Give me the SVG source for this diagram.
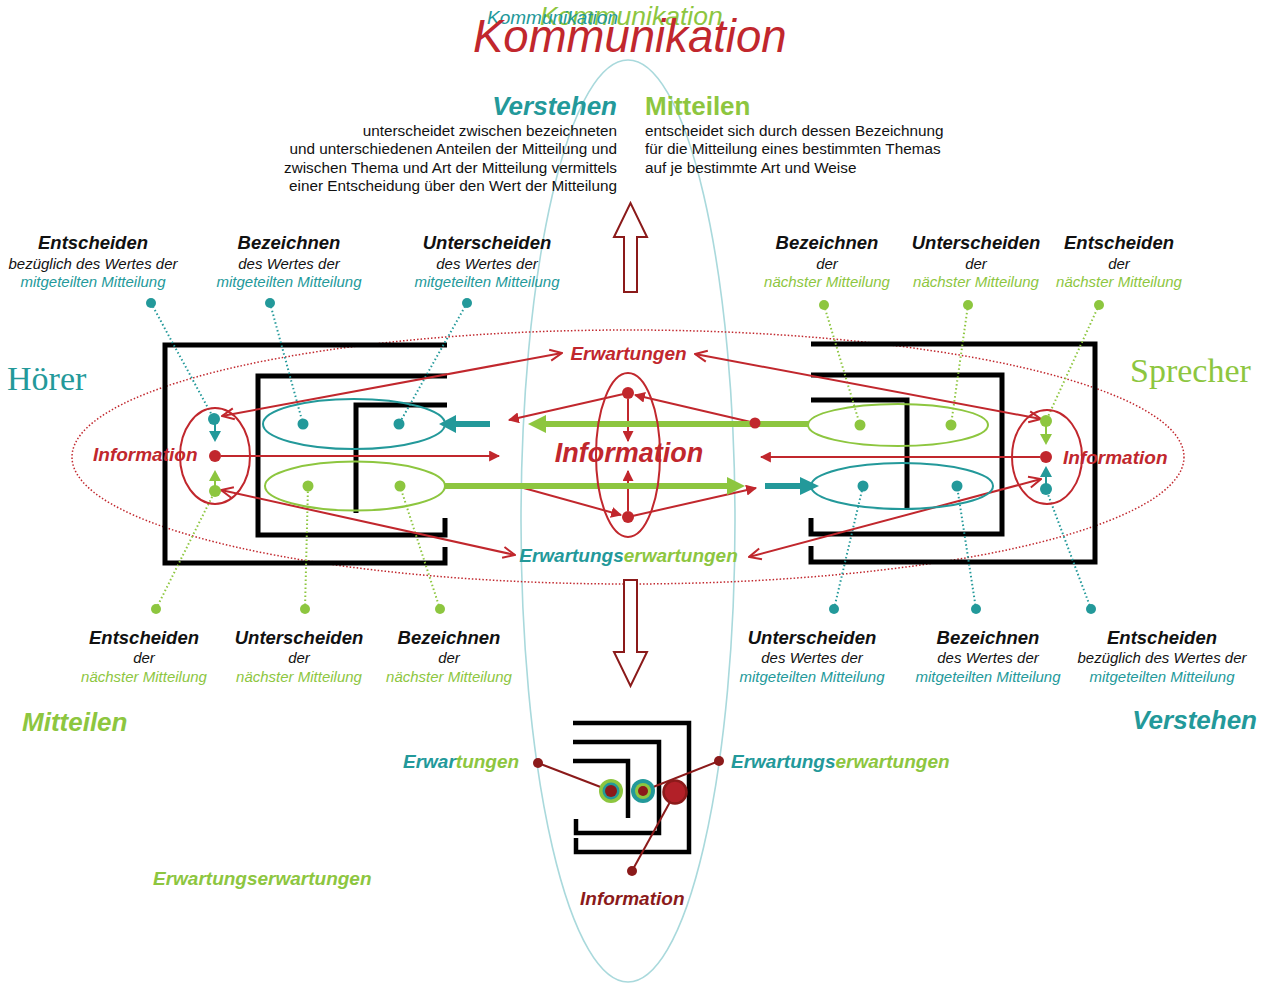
<svg xmlns="http://www.w3.org/2000/svg" width="1273" height="984" viewBox="0 0 1273 984">
<style>
text{font-family:"Liberation Sans",Arial,sans-serif}
.t{fill:#23999a}.g{fill:#8dc63f}.r{fill:#c1272d}.dr{fill:#8b1a1a}
.lbl{font-size:18.5px;font-weight:bold;font-style:italic;text-anchor:middle;fill:#111}
.sub{font-size:15px;font-style:italic;text-anchor:middle;fill:#111}
.subt{font-size:15px;font-style:italic;text-anchor:middle;fill:#23999a}
.subg{font-size:15px;font-style:italic;text-anchor:middle;fill:#8dc63f}
.para{font-size:15.3px;fill:#111}
.br{fill:none;stroke:#000;stroke-width:5;stroke-linejoin:miter}
.brs{fill:none;stroke:#000;stroke-width:4.5;stroke-linejoin:miter}
.dt{stroke:#23999a;stroke-width:2;stroke-dasharray:1.5 2.5;fill:none}
.dg{stroke:#8dc63f;stroke-width:2;stroke-dasharray:1.5 2.5;fill:none}
.rl{stroke:#c1272d;stroke-width:2;fill:none}
.bi{font-weight:bold;font-style:italic;font-size:19px}
.ell{fill:none;stroke-width:2}
</style>
<defs>
<marker id="oa" viewBox="0 0 14 14" refX="13" refY="7" markerWidth="14" markerHeight="14" markerUnits="userSpaceOnUse" orient="auto-start-reverse"><path d="M1,1.5 L13,7 L1,12.5" fill="none" stroke="#c1272d" stroke-width="2"/></marker>
<marker id="fa" viewBox="0 0 10 10" refX="9" refY="5" markerWidth="11" markerHeight="11" markerUnits="userSpaceOnUse" orient="auto"><path d="M0,0 L10,5 L0,10 z" fill="#c1272d"/></marker>
</defs>
<rect width="1273" height="984" fill="#fff"/>

<!-- background ellipses -->
<g id="frames">
<ellipse cx="628" cy="521" rx="107" ry="461" fill="none" stroke="#a9d9dc" stroke-width="1.6"/>
<ellipse cx="628" cy="457" rx="556" ry="127" fill="none" stroke="#c1272d" stroke-width="1.5" stroke-dasharray="1.5 2"/>
</g>

<!-- titles -->
<g id="title">
<text x="540" y="25" font-size="26.5" font-style="italic" class="g">Kommunikation</text>
<text x="487" y="24" font-size="19" font-style="italic" class="t">Kommunikation</text>
<text x="473" y="52" font-size="45.5" font-style="italic" class="r">Kommunikation</text>
</g>

<g id="verstehen-top">
<text x="617" y="115" font-size="26" font-weight="bold" font-style="italic" text-anchor="end" class="t">Verstehen</text>
<text class="para" text-anchor="end" x="617" y="135.5">unterscheidet zwischen bezeichneten</text>
<text class="para" text-anchor="end" x="617" y="154">und unterschiedenen Anteilen der Mitteilung und</text>
<text class="para" text-anchor="end" x="617" y="172.5">zwischen Thema und Art der Mitteilung vermittels</text>
<text class="para" text-anchor="end" x="617" y="191">einer Entscheidung über den Wert der Mitteilung</text>
</g>
<g id="mitteilen-top">
<text x="645" y="115" font-size="26" font-weight="bold" class="g">Mitteilen</text>
<text class="para" x="645" y="135.5">entscheidet sich durch dessen Bezeichnung</text>
<text class="para" x="645" y="154">für die Mitteilung eines bestimmten Themas</text>
<text class="para" x="645" y="172.5">auf je bestimmte Art und Weise</text>
</g>

<g id="arrow-up"><path d="M624,292 V237 H614 L630.5,203 L647,237 H637 V292 Z" fill="#fff" stroke="#8b1a1a" stroke-width="2"/></g>
<g id="arrow-down"><path d="M624,580 V652 H614 L630.5,686 L647,652 H637 V580 Z" fill="#fff" stroke="#8b1a1a" stroke-width="2"/></g>

<!-- upper labels -->
<g id="lab-ul1"><text class="lbl" x="93" y="249">Entscheiden</text><text class="sub" x="93" y="268.5">bezüglich des Wertes der</text><text class="subt" x="93" y="287">mitgeteilten Mitteilung</text></g>
<g id="lab-ul2"><text class="lbl" x="289" y="249">Bezeichnen</text><text class="sub" x="289" y="268.5">des Wertes der</text><text class="subt" x="289" y="287">mitgeteilten Mitteilung</text></g>
<g id="lab-ul3"><text class="lbl" x="487" y="249">Unterscheiden</text><text class="sub" x="487" y="268.5">des Wertes der</text><text class="subt" x="487" y="287">mitgeteilten Mitteilung</text></g>
<g id="lab-ur1"><text class="lbl" x="827" y="249">Bezeichnen</text><text class="sub" x="827" y="268.5">der</text><text class="subg" x="827" y="287">nächster Mitteilung</text></g>
<g id="lab-ur2"><text class="lbl" x="976" y="249">Unterscheiden</text><text class="sub" x="976" y="268.5">der</text><text class="subg" x="976" y="287">nächster Mitteilung</text></g>
<g id="lab-ur3"><text class="lbl" x="1119" y="249">Entscheiden</text><text class="sub" x="1119" y="268.5">der</text><text class="subg" x="1119" y="287">nächster Mitteilung</text></g>
<!-- lower labels -->
<g id="lab-ll1"><text class="lbl" x="144" y="644">Entscheiden</text><text class="sub" x="144" y="663">der</text><text class="subg" x="144" y="681.5">nächster Mitteilung</text></g>
<g id="lab-ll2"><text class="lbl" x="299" y="644">Unterscheiden</text><text class="sub" x="299" y="663">der</text><text class="subg" x="299" y="681.5">nächster Mitteilung</text></g>
<g id="lab-ll3"><text class="lbl" x="449" y="644">Bezeichnen</text><text class="sub" x="449" y="663">der</text><text class="subg" x="449" y="681.5">nächster Mitteilung</text></g>
<g id="lab-lr1"><text class="lbl" x="812" y="644">Unterscheiden</text><text class="sub" x="812" y="663">des Wertes der</text><text class="subt" x="812" y="681.5">mitgeteilten Mitteilung</text></g>
<g id="lab-lr2"><text class="lbl" x="988" y="644">Bezeichnen</text><text class="sub" x="988" y="663">des Wertes der</text><text class="subt" x="988" y="681.5">mitgeteilten Mitteilung</text></g>
<g id="lab-lr3"><text class="lbl" x="1162" y="644">Entscheiden</text><text class="sub" x="1162" y="663">bezüglich des Wertes der</text><text class="subt" x="1162" y="681.5">mitgeteilten Mitteilung</text></g>

<g id="hoerer"><text x="7" y="390" font-family="Liberation Serif,serif" font-size="34" class="t" style="font-family:'Liberation Serif',serif">Hörer</text></g>
<g id="sprecher"><text x="1130" y="382" font-size="34" class="g" style="font-family:'Liberation Serif',serif">Sprecher</text></g>
<g id="mitteilen-bl"><text x="22" y="731" font-size="26" font-weight="bold" font-style="italic" class="g">Mitteilen</text></g>
<g id="verstehen-br"><text x="1257" y="729" font-size="26" font-weight="bold" font-style="italic" text-anchor="end" class="t">Verstehen</text></g>

<!-- brackets -->
<g id="hoerer-brackets">
<path class="br" d="M447,345 H165 V563 H445 V547"/>
<path class="br" d="M447,376 H258 V535 H445 V518"/>
<path class="br" d="M447,405 H356 V513"/>
</g>
<g id="sprecher-brackets">
<path class="br" d="M811,344 H1095 V562 H811 V546"/>
<path class="br" d="M811,375 H1002 V534 H811 V518"/>
<path class="br" d="M811,400 H907 V508"/>
</g>

<!-- connectors -->
<g id="connectors">
<!-- dotted leaders -->
<line class="dt" x1="151" y1="303" x2="214" y2="419"/>
<line class="dt" x1="270" y1="303" x2="303" y2="424"/>
<line class="dt" x1="467" y1="303" x2="399" y2="424"/>
<line class="dg" x1="156" y1="609" x2="215" y2="491"/>
<line class="dg" x1="305" y1="609" x2="308" y2="486"/>
<line class="dg" x1="440" y1="609" x2="400" y2="486"/>
<line class="dg" x1="824" y1="305" x2="860" y2="425"/>
<line class="dg" x1="968" y1="305" x2="951" y2="425"/>
<line class="dg" x1="1099" y1="305" x2="1046" y2="421"/>
<line class="dt" x1="834" y1="609" x2="863" y2="486"/>
<line class="dt" x1="976" y1="609" x2="957" y2="486"/>
<line class="dt" x1="1091" y1="609" x2="1046" y2="489"/>

<!-- red central lines -->
<line class="rl" x1="520" y1="487" x2="621" y2="515" marker-end="url(#fa)"/>
<line class="rl" x1="628" y1="393" x2="509" y2="420" marker-end="url(#fa)"/>
<line class="rl" x1="755" y1="423" x2="635" y2="395" marker-end="url(#fa)"/>
<line class="rl" x1="628" y1="517" x2="756" y2="488" marker-end="url(#fa)"/>
<line class="rl" x1="628" y1="399" x2="628" y2="441" marker-end="url(#fa)"/>
<line class="rl" x1="628" y1="511" x2="628" y2="471" marker-end="url(#fa)"/>

<!-- thick arrows -->
<line x1="490" y1="424" x2="453" y2="424" stroke="#23999a" stroke-width="6"/>
<polygon points="439,424 456,415 456,433" fill="#23999a"/>
<line x1="808" y1="424" x2="543" y2="424" stroke="#8dc63f" stroke-width="6"/>
<polygon points="528,424 546,415 546,433" fill="#8dc63f"/>
<line x1="445" y1="486" x2="729" y2="486" stroke="#8dc63f" stroke-width="6"/>
<polygon points="745,486 727,477 727,495" fill="#8dc63f"/>
<line x1="765" y1="486" x2="802" y2="486" stroke="#23999a" stroke-width="6"/>
<polygon points="819,486 800,477 800,495" fill="#23999a"/>
<circle cx="755" cy="423" r="5.5" fill="#c1272d"/>

<!-- Erwartungen / Erwartungserwartungen -->
<line class="rl" x1="222" y1="416" x2="562" y2="353" marker-start="url(#oa)" marker-end="url(#oa)"/>
<line class="rl" x1="1041" y1="419" x2="695" y2="354" marker-start="url(#oa)" marker-end="url(#oa)"/>
<line class="rl" x1="221" y1="490" x2="515" y2="555" marker-start="url(#oa)" marker-end="url(#oa)"/>
<line class="rl" x1="1041" y1="479" x2="749" y2="557" marker-start="url(#oa)" marker-end="url(#oa)"/>

<!-- horizontal information arrows -->
<line class="rl" x1="221" y1="456" x2="499" y2="456" marker-end="url(#fa)"/>
<line class="rl" x1="1040" y1="457" x2="761" y2="457" marker-end="url(#fa)"/>

<!-- small vertical arrows -->
<line x1="215" y1="419" x2="215" y2="433" stroke="#23999a" stroke-width="2"/>
<polygon points="215,442 209,431 221,431" fill="#23999a"/>
<line x1="215" y1="491" x2="215" y2="479" stroke="#8dc63f" stroke-width="2"/>
<polygon points="215,470 209,481 221,481" fill="#8dc63f"/>
<line x1="1046" y1="421" x2="1046" y2="435" stroke="#8dc63f" stroke-width="2"/>
<polygon points="1046,445 1040,434 1052,434" fill="#8dc63f"/>
<line x1="1046" y1="489" x2="1046" y2="476" stroke="#23999a" stroke-width="2"/>
<polygon points="1046,466 1040,477 1052,477" fill="#23999a"/>
</g>

<!-- nodes -->
<g id="hoerer-verstehen">
<ellipse class="ell" cx="354" cy="424" rx="91" ry="25" stroke="#23999a"/>
<circle cx="303" cy="424" r="5.5" fill="#23999a"/><circle cx="399" cy="424" r="5.5" fill="#23999a"/>
</g>
<g id="hoerer-mitteilen">
<ellipse class="ell" cx="355" cy="486" rx="90" ry="24.5" stroke="#8dc63f"/>
<circle cx="308" cy="486" r="5.5" fill="#8dc63f"/><circle cx="400" cy="486" r="5.5" fill="#8dc63f"/>
</g>
<g id="sprecher-mitteilen">
<ellipse class="ell" cx="898" cy="425" rx="90" ry="21" stroke="#8dc63f"/>
<circle cx="860" cy="425" r="5.5" fill="#8dc63f"/><circle cx="951" cy="425" r="5.5" fill="#8dc63f"/>
</g>
<g id="sprecher-verstehen">
<ellipse class="ell" cx="902" cy="486" rx="91" ry="23" stroke="#23999a"/>
<circle cx="863" cy="486" r="5.5" fill="#23999a"/><circle cx="957" cy="486" r="5.5" fill="#23999a"/>
</g>
<g id="hoerer-information">
<ellipse class="ell" cx="215" cy="456" rx="35" ry="48" stroke="#c1272d" stroke-width="1.8"/>
<circle cx="214" cy="419" r="6" fill="#23999a"/>
<circle cx="215" cy="456" r="6" fill="#c1272d"/>
<circle cx="215" cy="491" r="6" fill="#8dc63f"/>
<text x="93" y="461" class="r bi">Information</text>
</g>
<g id="sprecher-information">
<ellipse class="ell" cx="1047" cy="457" rx="35" ry="47" stroke="#c1272d" stroke-width="1.8"/>
<circle cx="1046" cy="421" r="6" fill="#8dc63f"/>
<circle cx="1046" cy="457" r="6" fill="#c1272d"/>
<circle cx="1046" cy="489" r="6" fill="#23999a"/>
<text x="1063" y="464" class="r bi">Information</text>
</g>
<g id="central-information">
<ellipse class="ell" cx="628" cy="455" rx="32" ry="82" stroke="#c1272d" stroke-width="1.8"/>
<circle cx="628" cy="393" r="6" fill="#c1272d"/>
<circle cx="628" cy="517" r="6" fill="#c1272d"/>
<text x="629" y="462" font-size="27" font-weight="bold" font-style="italic" text-anchor="middle" class="r">Information</text>
</g>
<g id="erwartungen"><text x="628.5" y="360" text-anchor="middle" class="r bi">Erwartungen</text></g>
<g id="erwartungserwartungen"><text x="628.5" y="562" text-anchor="middle" class="bi"><tspan class="t">Erwartungs</tspan><tspan class="g">erwartungen</tspan></text></g>

<!-- label dots -->
<g id="label-dots">
<circle cx="151" cy="303" r="5" fill="#23999a"/><circle cx="270" cy="303" r="5" fill="#23999a"/><circle cx="467" cy="303" r="5" fill="#23999a"/>
<circle cx="824" cy="305" r="5" fill="#8dc63f"/><circle cx="968" cy="305" r="5" fill="#8dc63f"/><circle cx="1099" cy="305" r="5" fill="#8dc63f"/>
<circle cx="156" cy="609" r="5" fill="#8dc63f"/><circle cx="305" cy="609" r="5" fill="#8dc63f"/><circle cx="440" cy="609" r="5" fill="#8dc63f"/>
<circle cx="834" cy="609" r="5" fill="#23999a"/><circle cx="976" cy="609" r="5" fill="#23999a"/><circle cx="1091" cy="609" r="5" fill="#23999a"/>
</g>

<!-- bottom mini diagram -->
<g id="mini-diagram">
<path class="brs" d="M573,723 H689 V852 H576 V838"/>
<path class="brs" d="M573,742 H659 V833 H576 V819"/>
<path class="brs" d="M573,761 H628 V818"/>
<line x1="538" y1="763" x2="611" y2="791" stroke="#8b1a1a" stroke-width="2"/>
<line x1="719" y1="761" x2="643" y2="791" stroke="#8b1a1a" stroke-width="2"/>
<line x1="632" y1="871" x2="670" y2="802" stroke="#8b1a1a" stroke-width="2"/>
<circle cx="611" cy="791" r="12" fill="#8dc63f"/><circle cx="611" cy="791" r="8.5" fill="#23999a"/><circle cx="611" cy="791" r="6" fill="#8b1a1a"/>
<circle cx="643" cy="791" r="12" fill="#23999a"/><circle cx="643" cy="791" r="8" fill="#8dc63f"/><circle cx="643" cy="791" r="5" fill="#8b1a1a"/>
<circle cx="675" cy="792" r="11.5" fill="#b22028" stroke="#8b1a1a" stroke-width="2.5"/>
<circle cx="538" cy="763" r="5" fill="#8b1a1a"/>
<circle cx="719" cy="761" r="5" fill="#8b1a1a"/>
<circle cx="632" cy="871" r="5" fill="#8b1a1a"/>
</g>
<g id="mini-erwartungen"><text x="403" y="768" class="bi"><tspan class="t">Erwar</tspan><tspan class="g">tungen</tspan></text></g>
<g id="mini-ee"><text x="731" y="768" class="bi"><tspan class="t">Erwartungs</tspan><tspan class="g">erwartungen</tspan></text></g>
<g id="mini-information"><text x="580" y="905" class="dr bi">Information</text></g>
<g id="ee-bottom-left"><text x="153" y="885" class="g bi">Erwartungserwartungen</text></g>
</svg>
